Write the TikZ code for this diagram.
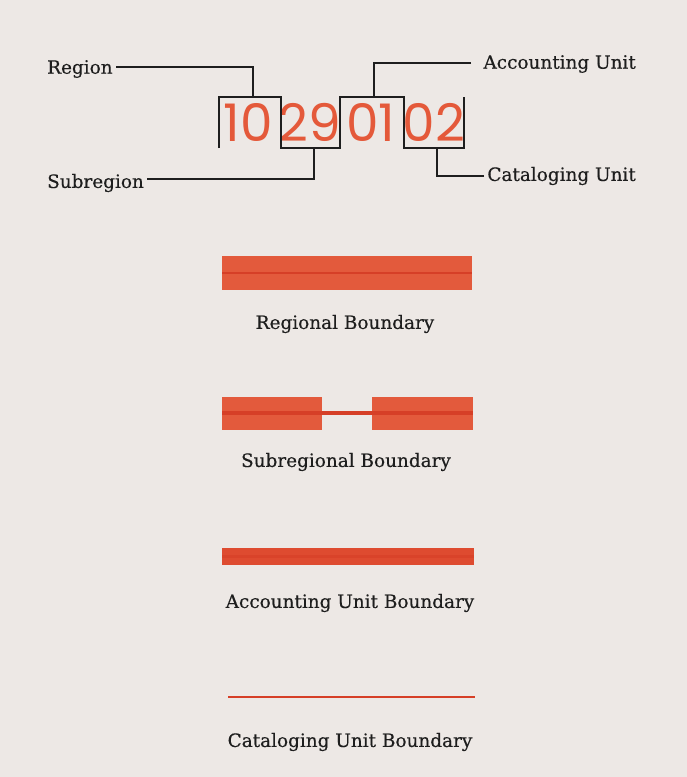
\documentclass[tikz,border=0pt]{standalone}
\usepackage{fontspec}
\setmainfont{DejaVu Serif}
\newfontfamily\lblfont[FakeBold=0.35]{DejaVu Serif}
\newfontfamily\digitfont{Poppins}
\definecolor{bg}{HTML}{EDE8E5}
\definecolor{barred}{HTML}{E35A3C}
\definecolor{linered}{HTML}{D63F27}
\definecolor{accred}{HTML}{DE4B30}
\definecolor{digitred}{HTML}{E4593A}
\definecolor{ink}{HTML}{1E1E1E}
\begin{document}
\begin{tikzpicture}[x=1bp,y=-1bp,
  lbl/.style={font=\lblfont\fontsize{18.5}{20}\selectfont, text=ink, inner sep=0pt},
  dig/.style={font=\digitfont\fontsize{52}{52}\selectfont, text=digitred, inner sep=0pt},
  leader/.style={draw=ink, line width=1.4bp},
  midline/.style={draw=linered, line width=2.6bp}]
\fill[bg] (0,0) rectangle (687,777);
\useasboundingbox (0,0) rectangle (687,777);

% digits
\node[dig] (d1) at (248,122) {10};
\node[dig] (d2) at (310,122) {29};
\node[dig] (d3) at (371,122) {01};
\node[dig] (d4) at (434,122) {02};

% bracket polyline
\coordinate (b0) at (219,148);
\coordinate (b1) at (219,97);
\coordinate (b2) at (281,97);
\coordinate (b3) at (281,148);
\coordinate (b4) at (340,148);
\coordinate (b5) at (340,97);
\coordinate (b6) at (404,97);
\coordinate (b7) at (404,148);
\coordinate (b8) at (464,148);
\coordinate (b9) at (464,97);
\draw[leader] (b0) -- (b1) -- (b2) -- (b3) -- (b4) -- (b5) -- (b6) -- (b7) -- (b8) -- (b9);

% attachment points
\coordinate (rtop) at (253,97);
\coordinate (sbot) at (314,148);
\coordinate (atop) at (374,97);
\coordinate (cbot) at (437,148);

% labels
\node[lbl, anchor=west] (region) at (47,69) {Region};
\node[lbl, anchor=west] (subregion) at (47,183) {Subregion};
\node[lbl, anchor=east] (accounting) at (636,64) {Accounting Unit};
\node[lbl, anchor=east] (cataloging) at (636,176) {Cataloging Unit};

\coordinate (rlead) at (116,67);
\coordinate (slead) at (147,179);
\coordinate (alead) at (471,63);
\coordinate (clead) at (484,176);

\draw[leader] (rlead) -- (rlead -| rtop) -- (rtop);
\draw[leader] (slead) -- (slead -| sbot) -- (sbot);
\draw[leader] (alead) -- (alead -| atop) -- (atop);
\draw[leader] (clead) -- (clead -| cbot) -- (cbot);

% boundary samples
\fill[barred] (222,256) rectangle (472,290);
\draw[midline] (222,273) -- (472,273);
\node[lbl] (rb) at (345,324) {Regional Boundary};

\fill[barred] (222,397) rectangle (322,430);
\fill[barred] (372,397) rectangle (473,430);
\draw[linered, line width=3.5bp] (222,413) -- (473,413);
\node[lbl] (sb) at (346,462) {Subregional Boundary};

\fill[accred] (222,548) rectangle (474,565);
\draw[linered, line width=3bp, opacity=0.6] (222,556.5) -- (474,556.5);
\node[lbl] (ab) at (350,603) {Accounting Unit Boundary};

\draw[linered, line width=2.5bp] (228,697) -- (475,697);
\node[lbl] (cb) at (350,742) {Cataloging Unit Boundary};
\end{tikzpicture}
\end{document}
